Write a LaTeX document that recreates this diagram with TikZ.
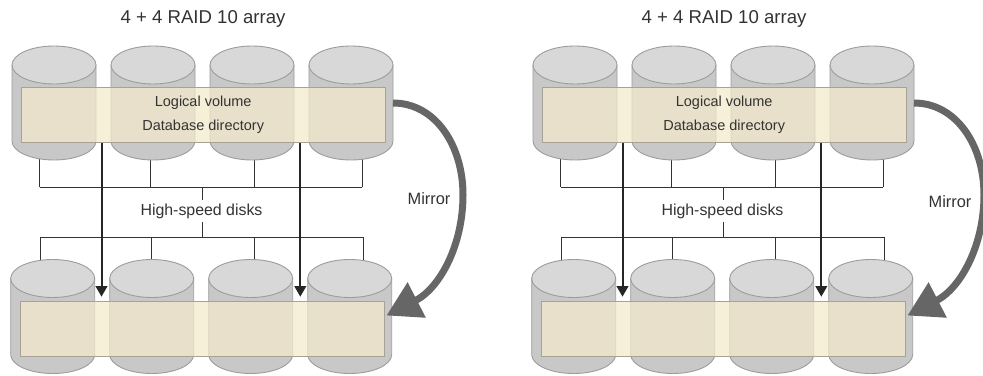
\documentclass[tikz,border=0pt]{standalone}
\usepackage{fontspec}
\setmainfont{Liberation Sans}
\usetikzlibrary{arrows.meta,backgrounds}

\definecolor{disktop}{HTML}{D8D8D8}
\definecolor{diskbody}{HTML}{C8C8C8}
\definecolor{diskline}{HTML}{9C9C9C}
\definecolor{bannerfill}{HTML}{F4EACB}
\definecolor{bannerline}{HTML}{A8A294}
\definecolor{wirecol}{HTML}{333333}
\definecolor{textcol}{HTML}{333333}
\definecolor{mirrorcol}{HTML}{666666}

\tikzset{
  disk/.style={minimum width=84pt, minimum height=114pt, inner sep=0pt, outer sep=0pt},
  diskedge/.style={draw=diskline, line width=0.9pt},
  banner/.style={draw=bannerline, line width=0.9pt, fill=bannerfill, fill opacity=0.73, text opacity=1,
    minimum width=363.5pt, minimum height=55pt, inner sep=0pt, outer sep=0pt, text=textcol,
    align=center, font=\fontsize{14.5}{24}\selectfont},
  wire/.style={line width=1pt, color=wirecol},
  feed/.style={line width=2pt, color=black!85, -{Triangle[length=10.5pt,width=11.5pt]}},
  mirror/.style={line width=7pt, color=mirrorcol, -{Triangle[length=34pt,width=38pt]}},
  title/.style={text=textcol, font=\fontsize{18.6}{22}\selectfont},
  tag/.style={text=textcol, font=\fontsize{16.4}{20}\selectfont, inner sep=0pt, minimum height=22pt}
}

% body and lid of one disk, on the box of node #1
\newcommand{\diskshape}[1]{
  \path[diskedge,fill=diskbody] (#1.north west) ++(0,19) -- ++(0,76)
    arc[start angle=180,end angle=360,x radius=42pt,y radius=19pt] -- ++(0,-76) -- cycle;
  \path[diskedge,fill=disktop] (#1.north) ++(0,19) ellipse [x radius=42pt,y radius=19pt];
}

\begin{document}
\begin{tikzpicture}[x=1pt,y=-1pt]
\useasboundingbox (0,0) rectangle (983,375);

\foreach \p/\dx/\my in {l/0/199,r/521/202} {
\begin{scope}[xshift=\dx pt]
\node[title] (title\p) at (203,19) {4 + 4 RAID 10 array};

% the disks
\foreach \i/\tc/\bc/\tx/\bx in {1/54/52.7/39.5/40,2/153/151.7/150.5/151,3/252/250.7/254/254.5,4/351/349.7/362/363} {
  \node[disk] (top\i\p) at (\tc,103) {};
  \node[disk] (bot\i\p) at (\bc,316.5) {};
  \diskshape{top\i\p}
  \diskshape{bot\i\p}
  \coordinate (tbus\i\p) at (\tx,187);
  \coordinate (bbus\i\p) at (\bx,237.3);
}

\node[banner] (volT\p) at (203.2,115) {Logical volume\\Database directory};
\node[banner] (volB\p) at (202.2,329) {};
\node[tag,font=\fontsize{15.9}{20}\selectfont] (speed\p) at (201.5,211) {High-speed disks};
\node[tag] (mirror\p) at (429,\my) {Mirror};

% bus lines go behind the disks
\begin{scope}[on background layer]
\path[draw,wire] (tbus1\p) -- (tbus4\p);
\path[draw,wire] (bbus1\p) -- (bbus4\p);
\coordinate (stemA\p) at (202,187);
\coordinate (stemB\p) at (202,237.3);
\path[draw,wire] (speed\p.north -| stemA\p) -- (stemA\p);
\path[draw,wire] (speed\p.south -| stemB\p) -- (stemB\p);
\foreach \i in {1,2,3,4} {
  \path[draw,wire] (tbus\i\p) -- (tbus\i\p |- top\i\p.center);
  \path[draw,wire] (bbus\i\p) -- (bbus\i\p |- bot\i\p.center);
}
\end{scope}

% arrows down to the second array
\coordinate (feedA\p) at (101.5,296.7);
\coordinate (feedB\p) at (300.3,296.7);
\path[draw,feed] (volT\p.south -| feedA\p) -- (feedA\p);
\path[draw,feed] (volT\p.south -| feedB\p) -- (feedB\p);

\coordinate (mirrorEnd\p) at (386.5,315.5);
\path[draw,mirror] (top4\p.east) .. controls (435,103) and (463,145) .. (463,195)
  .. controls (463,245) and (440,288) .. (mirrorEnd\p);
\end{scope}
}
\end{tikzpicture}
\end{document}
